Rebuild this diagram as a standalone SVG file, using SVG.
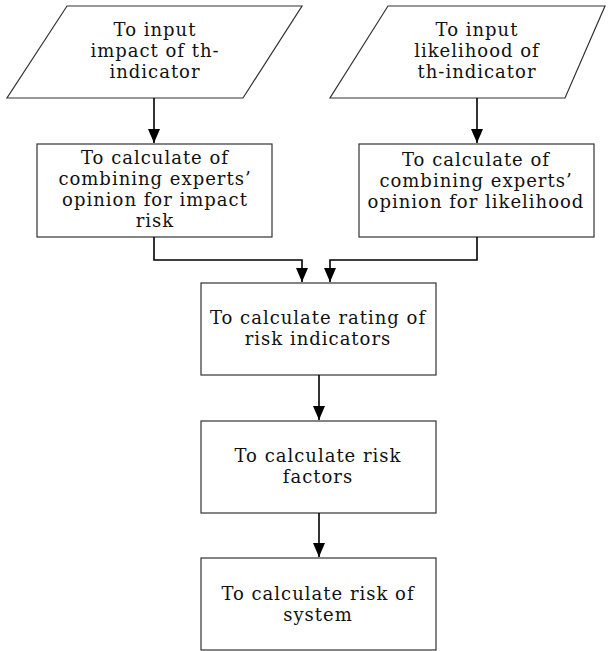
<svg xmlns="http://www.w3.org/2000/svg" width="614" height="651" viewBox="0 0 614 651">
  <style>
    .shape { fill: #ffffff; stroke: #333333; stroke-width: 1.2; }
    .link { fill: none; stroke: #000000; stroke-width: 1.6; }
    .label { font-family: "DejaVu Serif", "Liberation Serif", serif; font-size: 18px; letter-spacing: 1px; fill: #111111; text-anchor: middle; }
  </style>
  <defs>
    <marker id="arrow" viewBox="0 0 14 12" refX="14" refY="6" markerWidth="14" markerHeight="12" markerUnits="userSpaceOnUse" orient="auto">
      <path d="M0,0 L14,6 L0,12 Z" fill="#000000"/>
    </marker>
  </defs>
  <rect width="614" height="651" fill="#ffffff"/>

  <g id="input-impact">
    <polygon class="shape" points="67,6 302,6 243,98 7,98"/>
    <text class="label" x="155" y="36">To input</text>
    <text class="label" x="155" y="57">impact of th-</text>
    <text class="label" x="155" y="78">indicator</text>
  </g>

  <g id="input-likelihood">
    <polygon class="shape" points="388,6 605,6 565,98 330,98"/>
    <text class="label" x="477" y="36">To input</text>
    <text class="label" x="477" y="57">likelihood of</text>
    <text class="label" x="477" y="78">th-indicator</text>
  </g>

  <g id="combine-impact">
    <rect class="shape" x="37" y="144" width="235" height="93"/>
    <text class="label" x="155" y="164">To calculate of</text>
    <text class="label" x="155" y="185">combining experts’</text>
    <text class="label" x="155" y="206">opinion for impact</text>
    <text class="label" x="155" y="227">risk</text>
  </g>

  <g id="combine-likelihood">
    <rect class="shape" x="359" y="144" width="235" height="93"/>
    <text class="label" x="476" y="166">To calculate of</text>
    <text class="label" x="476" y="187">combining experts’</text>
    <text class="label" x="476" y="208">opinion for likelihood</text>
  </g>

  <g id="rating">
    <rect class="shape" x="201" y="283" width="235" height="92"/>
    <text class="label" x="318" y="324">To calculate rating of</text>
    <text class="label" x="318" y="345">risk indicators</text>
  </g>

  <g id="factors">
    <rect class="shape" x="201" y="421" width="235" height="92"/>
    <text class="label" x="318" y="462">To calculate risk</text>
    <text class="label" x="318" y="483">factors</text>
  </g>

  <g id="system">
    <rect class="shape" x="201" y="558" width="235" height="92"/>
    <text class="label" x="318" y="600">To calculate risk of</text>
    <text class="label" x="318" y="621">system</text>
  </g>

  <g id="connectors">
    <path class="link" d="M154,98 V143" marker-end="url(#arrow)"/>
    <path class="link" d="M477,98 V143" marker-end="url(#arrow)"/>
    <path class="link" d="M154,237 V260 H302 V282" marker-end="url(#arrow)"/>
    <path class="link" d="M477,237 V260 H330 V282" marker-end="url(#arrow)"/>
    <path class="link" d="M319,375 V420" marker-end="url(#arrow)"/>
    <path class="link" d="M319,513 V557" marker-end="url(#arrow)"/>
  </g>
</svg>
